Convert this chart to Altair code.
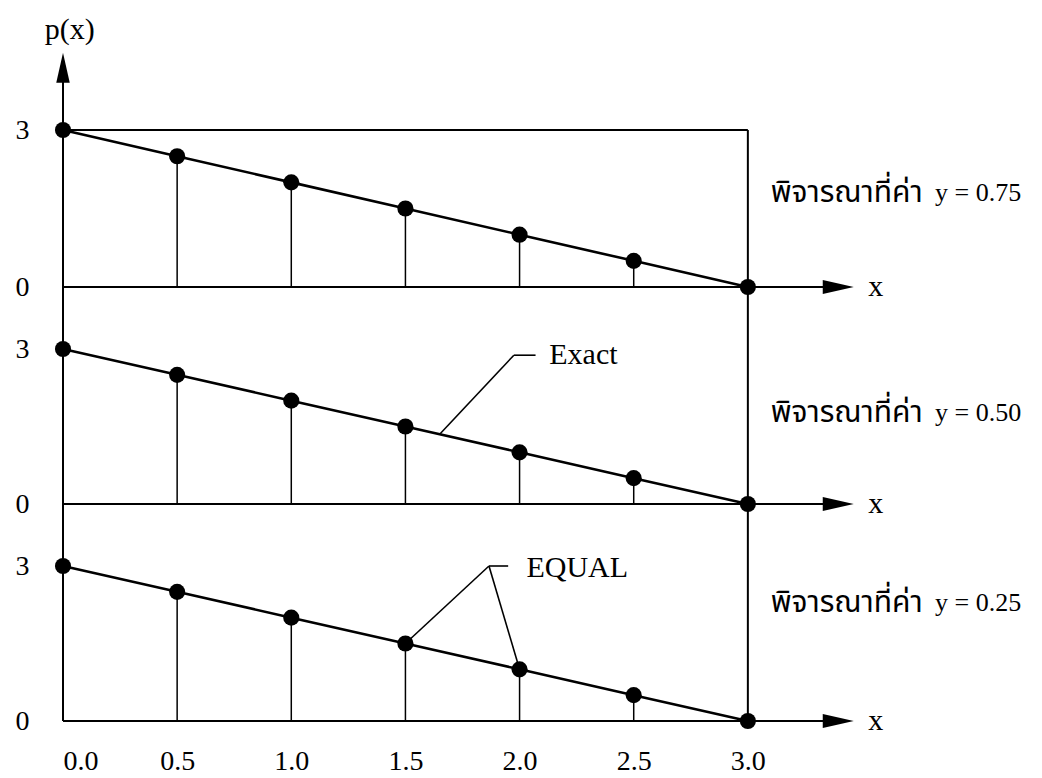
import altair as alt
import pandas as pd

# ---- data ----
x_vals = [0.0, 0.5, 1.0, 1.5, 2.0, 2.5, 3.0]
p_vals = [3.0, 2.5, 2.0, 1.5, 1.0, 0.5, 0.0]
x_ticks = [0.0, 0.5, 1.0, 1.5, 2.0, 2.5, 3.0]
y_ticks = [0, 3]
thai_caption = "พิจารณาที่ค่า"
y_levels = ["y = 0.75", "y = 0.50", "y = 0.25"]
caption_heights = [1.80, 1.76, 2.28]

SERIF = "Liberation Serif"
THAI = "Liberation Serif, Noto Sans Thai, Noto Serif Thai, Loma, Garuda, Norasi, sans-serif"
W = 799
XD = [0, 3.5]

pts = pd.DataFrame({"x": x_vals, "p": p_vals})


def make_panel(idx, ydom, height, show_x, segs, texts, top=False):
    xs = alt.Scale(domain=XD, nice=False, zero=False)
    ys = alt.Scale(domain=ydom, nice=False, zero=False)
    if show_x:
        x_axis = alt.Axis(values=x_ticks, format=".1f", domain=False, ticks=False,
                          tickSize=0, grid=False, labelPadding=26, labelFontSize=28,
                          labelFont=SERIF, labelColor="black", title=None)
    else:
        x_axis = None
    y_axis = alt.Axis(values=y_ticks, format="d", domain=False, ticks=False, tickSize=0,
                      grid=False, labelPadding=34, labelFontSize=28, labelFont=SERIF,
                      labelColor="black", title=None)

    def X(f, **kw):
        return alt.X(f, type="quantitative", scale=xs, axis=x_axis, **kw)

    def Y(f, **kw):
        return alt.Y(f, type="quantitative", scale=ys, axis=y_axis, **kw)

    base = alt.Chart(pts)
    stems = base.mark_rule(color="black", strokeWidth=1.5).encode(
        x=X("x"), y=Y("p"), y2=alt.datum(0))
    line = base.mark_line(color="black", strokeWidth=2.6).encode(x=X("x"), y=Y("p"))
    dots = base.mark_circle(color="black", size=260, opacity=1).encode(x=X("x"), y=Y("p"))

    seg_df = pd.DataFrame(segs, columns=["x", "x2", "y", "y2", "w"])
    rules = alt.Chart(seg_df).mark_rule(color="black").encode(
        x=X("x"), x2="x2:Q", y=Y("y"), y2="y2:Q",
        strokeWidth=alt.StrokeWidth("w:Q", scale=None))

    arrow_x = alt.Chart(pd.DataFrame({"x": [3.396], "y": [0.0]})).mark_point(
        shape="M-1,-0.45L1,0L-1,0.45Z", size=961, filled=True, color="black",
        opacity=1, strokeWidth=0).encode(x=X("x"), y=Y("y"))
    x_lbl = alt.Chart(pd.DataFrame({"x": [3.56], "y": [0.0], "t": ["x"]})).mark_text(
        font=SERIF, fontSize=30, align="center", baseline="middle", color="black"
    ).encode(x=X("x"), y=Y("y"), text="t:N")

    cap_df = pd.DataFrame({"x": [3.10], "y": [caption_heights[idx]], "t": [thai_caption]})
    cap = alt.Chart(cap_df).mark_text(font=THAI, fontSize=30, align="left",
                                      baseline="middle", color="black").encode(
        x=X("x"), y=Y("y"), text="t:N")
    lev_df = pd.DataFrame({"x": [3.82], "y": [caption_heights[idx]], "t": [y_levels[idx]]})
    lev = alt.Chart(lev_df).mark_text(font=SERIF, fontSize=26, align="left",
                                      baseline="middle", color="black").encode(
        x=X("x"), y=Y("y"), text="t:N")

    layers = [rules, stems, line, dots, arrow_x, x_lbl, cap, lev]

    if texts:
        tdf = pd.DataFrame(texts, columns=["x", "y", "t"])
        layers.append(alt.Chart(tdf).mark_text(font=SERIF, fontSize=30, align="left",
                                               baseline="middle", color="black").encode(
            x=X("x"), y=Y("y"), text="t:N"))

    if top:
        arrow_y = alt.Chart(pd.DataFrame({"x": [0.0], "y": [4.19]})).mark_point(
            shape="M-0.45,1L0,-1L0.45,1Z", size=900, filled=True, color="black",
            opacity=1, strokeWidth=0).encode(x=X("x"), y=Y("y"))
        px = alt.Chart(pd.DataFrame({"x": [0.03], "y": [4.91], "t": ["p(x)"]})).mark_text(
            font=SERIF, fontSize=30, align="center", baseline="middle", color="black"
        ).encode(x=X("x"), y=Y("y"), text="t:N")
        layers += [arrow_y, px]

    return alt.layer(*layers).properties(width=W, height=height)


top_segs = [
    (0.0, 0.0, 0.0, 4.0, 2),
    (0.0, 3.0, 3.0, 3.0, 2),
    (3.0, 3.0, 0.0, 3.0, 2),
    (0.0, 3.35, 0.0, 0.0, 2),
]
mid_segs = [
    (0.0, 0.0, 0.0, 4.2, 2),
    (3.0, 3.0, 0.0, 4.2, 2),
    (0.0, 3.35, 0.0, 0.0, 2),
    (1.65, 1.975, 1.35, 2.88, 1.6),
    (1.975, 2.07, 2.88, 2.88, 1.6),
]
bot_segs = [
    (0.0, 0.0, 0.0, 4.2, 2),
    (3.0, 3.0, 0.0, 4.2, 2),
    (0.0, 3.35, 0.0, 0.0, 2),
    (1.5, 1.866, 1.5, 3.0, 1.6),
    (2.0, 1.866, 1.0, 3.0, 1.6),
    (1.866, 1.95, 3.0, 3.0, 1.6),
]

top = make_panel(0, [0, 5.39], 282, False, top_segs, [], top=True)
mid = make_panel(1, [0, 4.2], 217, False, mid_segs, [(2.13, 2.88, "Exact")])
bot = make_panel(2, [0, 4.2], 217, True, bot_segs, [(2.03, 2.96, "EQUAL")])

chart = alt.vconcat(top, mid, bot, spacing=0, bounds="flush").properties(
    padding={"left": 15, "top": 5, "right": 0, "bottom": 0},
    background="white",
).configure_view(stroke=None)

chart.save("out.html", embed_options={"renderer": "svg", "actions": False})
